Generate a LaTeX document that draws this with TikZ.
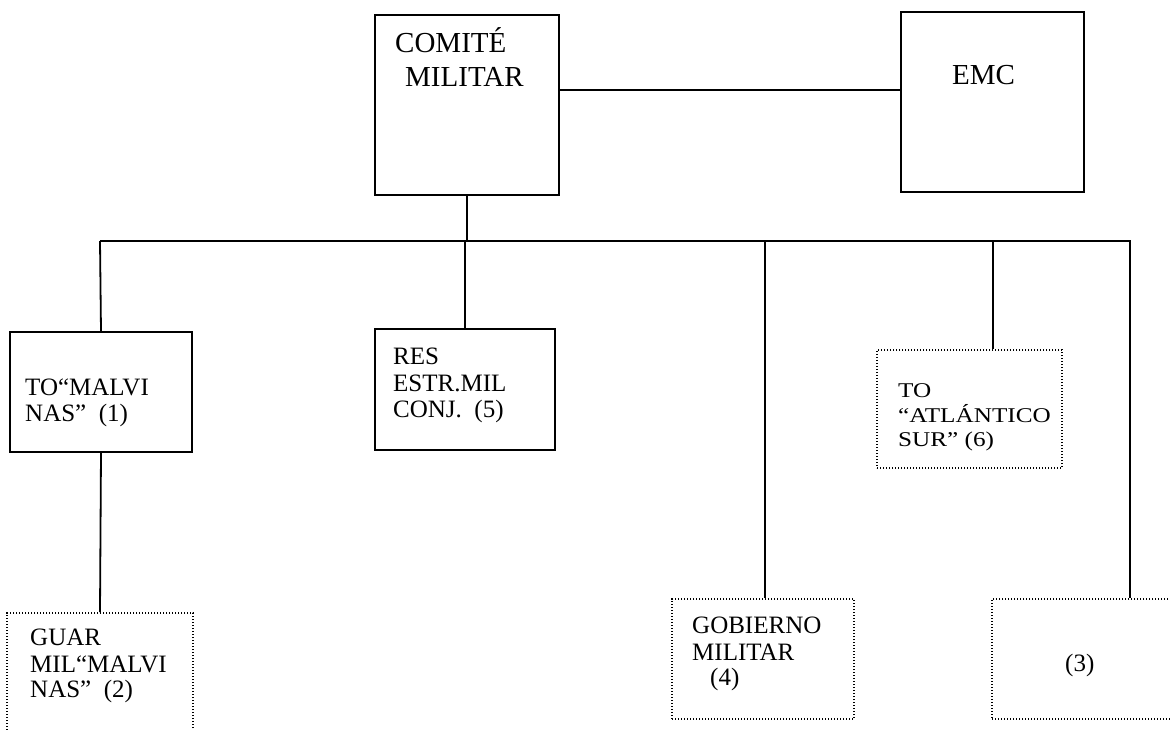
\documentclass[tikz,border=0pt]{standalone}
\usepackage{fontspec}
\setmainfont{Liberation Serif}
\newfontfamily\atlfont[FakeStretch=1.2]{Liberation Serif}
\begin{document}
\begin{tikzpicture}[x=1pt,y=-1pt,
  solidbox/.style={draw=black,line width=1.6pt,inner sep=0pt},
  dotbox/.style={draw=black,line width=1.6pt,dash pattern=on 1.4pt off 1.6pt,inner sep=0pt},
  wire/.style={draw=black,line width=1.8pt},
  big/.style={font=\fontsize{29}{34}\selectfont,inner sep=0pt,anchor=base west},
  mid/.style={font=\fontsize{25}{27}\selectfont,inner sep=0pt,anchor=base west},
  small/.style={font=\atlfont\fontsize{21}{24}\selectfont,inner sep=0pt,anchor=base west}]
\clip (0,0) rectangle (1170,730);
\fill[white] (0,0) rectangle (1170,730);
% boxes
\node[solidbox,minimum width=184pt,minimum height=180pt] (comite) at (467,105) {};
\node[solidbox,minimum width=183pt,minimum height=180pt] (emc) at (992.5,102) {};
\node[solidbox,minimum width=182pt,minimum height=120pt] (to1) at (101,392) {};
\node[solidbox,minimum width=180pt,minimum height=121pt] (res5) at (465,389.5) {};
\node[dotbox,minimum width=185pt,minimum height=118pt] (to6) at (969.5,409) {};
\node[dotbox,minimum width=186pt,minimum height=160pt] (guar2) at (100,693) {};
\node[dotbox,minimum width=182pt,minimum height=120pt] (gob4) at (763,659) {};
\node[dotbox,minimum width=220pt,minimum height=120pt] (box3) at (1102,659) {};
% texts
\node[big] (t1a) at (395,53) {COMITÉ};
\node[big] (t1b) at (405,87) {MILITAR};
\node[big] (t2) at (952,85) {EMC};
\node[mid] (t3a) at (25,395) {TO“MALVI};
\node[mid] (t3b) at (25,421) {NAS”\ \ (1)};
\node[mid] (t4a) at (393,364) {RES};
\node[mid] (t4b) at (393,391) {ESTR.MIL};
\node[mid] (t4c) at (393,417) {CONJ.\ \ (5)};
\node[small] (t5a) at (898,397) {TO};
\node[small] (t5b) at (898,422) {“ATLÁNTICO};
\node[small] (t5c) at (898,446) {SUR” (6)};
\node[mid] (t6a) at (30,645) {GUAR};
\node[mid] (t6b) at (30,672) {MIL“MALVI};
\node[mid] (t6c) at (30,697) {NAS”\ \ (2)};
\node[mid] (t7a) at (692,633) {GOBIERNO};
\node[mid] (t7b) at (692,660) {MILITAR};
\node[mid] (t7c) at (710,685) {(4)};
\node[mid] (t8) at (1065,671) {(3)};
% bus
\coordinate (busL) at (100,241);
\coordinate (busR) at (1130,241);
\draw[wire] (comite.east |- 0,90) -- (emc.west |- 0,90);
\draw[wire] (comite.south) -- (comite.south |- busL);
\draw[wire] (to1.north |- busL) -- (busL) -- (busR) -- (busR |- box3.north);
\draw[wire] (busL) -- (to1.north);
\draw[wire] (res5.north |- busL) -- (res5.north);
\draw[wire] (765,241) -- (gob4.north -| 765,0);
\draw[wire] (993,241) -- (to6.north -| 993,0);
\draw[wire] (to1.south) -- (guar2.north);
\end{tikzpicture}
\end{document}
